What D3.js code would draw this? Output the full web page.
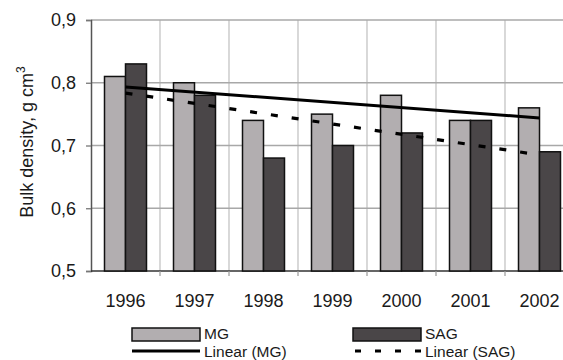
<!DOCTYPE html>
<html>
<head>
<meta charset="utf-8">
<script src="https://cdn.jsdelivr.net/npm/d3@7"></script>
<style>
  body { margin: 0; background: #fff; }
  text { font-family: "Liberation Sans", Arial, sans-serif; fill: #1a1a1a; }
</style>
</head>
<body>
<div id="chart"></div>
<script>
// chart data
const years = ["1996", "1997", "1998", "1999", "2000", "2001", "2002"];
const mgValues = [0.81, 0.80, 0.74, 0.75, 0.78, 0.74, 0.76];
const sagValues = [0.83, 0.78, 0.68, 0.70, 0.72, 0.74, 0.69];
const yTicks = [0.5, 0.6, 0.7, 0.8, 0.9];

// linear trend (least squares), same as the spreadsheet trendline
function linearFit(vals) {
  const xs = vals.map((v, i) => i + 1);
  const mx = d3.mean(xs), my = d3.mean(vals);
  const slope = d3.sum(xs, (x, i) => (x - mx) * (vals[i] - my)) / d3.sum(xs, x => (x - mx) * (x - mx));
  return xs.map(x => my + slope * (x - mx));
}

const W = 563, H = 360;
const svg = d3.select("#chart").append("svg")
    .attr("width", W).attr("height", H);

// plot area (right side is cropped in the original picture)
const pLeft = 91, pRight = 574, pTop = 20, pBottom = 271;
const fontSize = "18px";
const legendFont = "15.5px";

const x = d3.scaleBand().domain(years).range([pLeft, pRight]).paddingInner(0).paddingOuter(0);
const y = d3.scaleLinear().domain([0.5, 0.9]).range([pBottom, pTop]);

const barW = 21;

// vertical gridlines at category boundaries
svg.append("g")
  .selectAll("line")
  .data(years.slice(1))
  .enter().append("line")
  .attr("x1", d => x(d)).attr("x2", d => x(d))
  .attr("y1", pTop).attr("y2", pBottom)
  .attr("stroke", "#c4c4c4").attr("stroke-width", 1.3);

// horizontal gridlines
svg.append("g")
  .selectAll("line")
  .data(yTicks.slice(1))
  .enter().append("line")
  .attr("x1", pLeft).attr("x2", pRight)
  .attr("y1", d => y(d)).attr("y2", d => y(d))
  .attr("stroke", "#a8a8a8").attr("stroke-width", 1.5);

// y axis
const yAxis = svg.append("g")
    .attr("transform", `translate(${pLeft},0)`)
    .call(d3.axisLeft(y).tickValues(yTicks).tickSize(5).tickPadding(10)
      .tickFormat(d => d3.format(".1f")(d).replace(".", ",")));
yAxis.select(".domain").attr("stroke", "#555").attr("stroke-width", 1.5);
yAxis.selectAll(".tick line").attr("stroke", "#777").attr("stroke-width", 1.3);
yAxis.selectAll("text").style("font-size", fontSize).attr("fill", "#1a1a1a");

// x axis
const xAxis = svg.append("g")
    .attr("transform", `translate(0,${pBottom})`)
    .call(d3.axisBottom(x).tickSize(0).tickPadding(23));
xAxis.select(".domain").remove();
xAxis.selectAll("text").style("font-size", fontSize).attr("fill", "#1a1a1a");
svg.append("line")
  .attr("x1", pLeft).attr("x2", pRight)
  .attr("y1", pBottom).attr("y2", pBottom)
  .attr("stroke", "#333").attr("stroke-width", 1.5);
svg.append("g")
  .selectAll("line")
  .data(years.slice(1))
  .enter().append("line")
  .attr("x1", d => x(d)).attr("x2", d => x(d))
  .attr("y1", pBottom).attr("y2", pBottom + 5)
  .attr("stroke", "#999").attr("stroke-width", 1.2);

// bars
const series = [
  { key: "MG", values: mgValues, fill: "#b2aeb0", offset: -barW },
  { key: "SAG", values: sagValues, fill: "#4a4648", offset: 0 }
];
series.forEach(s => {
  svg.append("g")
    .selectAll("rect")
    .data(s.values)
    .enter().append("rect")
    .attr("x", (d, i) => x(years[i]) + x.bandwidth() / 2 + s.offset)
    .attr("y", d => y(d))
    .attr("width", barW)
    .attr("height", d => pBottom - y(d))
    .attr("fill", s.fill)
    .attr("stroke", "#111")
    .attr("stroke-width", 1.5);
});

// trend lines, drawn from first to last category centre
const trendLine = d3.line()
    .x((d, i) => x(years[i * (years.length - 1)]) + x.bandwidth() / 2)
    .y(d => y(d));
const mgTrend = linearFit(mgValues);
const sagTrend = linearFit(sagValues);
svg.append("path").datum([mgTrend[0], mgTrend[mgTrend.length - 1]])
  .attr("d", trendLine)
  .attr("fill", "none").attr("stroke", "#000").attr("stroke-width", 3);
svg.append("path").datum([sagTrend[0], sagTrend[sagTrend.length - 1]])
  .attr("d", trendLine)
  .attr("fill", "none").attr("stroke", "#000").attr("stroke-width", 3.2)
  .attr("stroke-dasharray", "7,14");

// y axis title
svg.append("text")
  .attr("transform", "translate(33,142) rotate(-90)")
  .attr("text-anchor", "middle")
  .style("font-size", fontSize)
  .html('Bulk density, g cm<tspan dy="-8" style="font-size:12px">3</tspan>');

// legend
const legend = svg.append("g");
const legItems = [
  { label: "MG", fill: "#b2aeb0", x: 132, w: 68 },
  { label: "SAG", fill: "#4a4648", x: 353, w: 68 }
];
legItems.forEach(it => {
  legend.append("rect")
    .attr("x", it.x).attr("y", 328).attr("width", it.w).attr("height", 13)
    .attr("fill", it.fill).attr("stroke", "#111").attr("stroke-width", 1.5);
  legend.append("text")
    .attr("x", it.x + it.w + 4).attr("y", 339)
    .style("font-size", legendFont).text(it.label);
});
legend.append("line")
  .attr("x1", 132).attr("x2", 200).attr("y1", 351).attr("y2", 351)
  .attr("stroke", "#000").attr("stroke-width", 3);
legend.append("text")
  .attr("x", 204).attr("y", 356.5)
  .style("font-size", legendFont).text("Linear (MG)");
legend.append("line")
  .attr("x1", 355).attr("x2", 421).attr("y1", 351).attr("y2", 351)
  .attr("stroke", "#000").attr("stroke-width", 3)
  .attr("stroke-dasharray", "6,14");
legend.append("text")
  .attr("x", 425).attr("y", 356.5)
  .style("font-size", legendFont).text("Linear (SAG)");
</script>
</body>
</html>
